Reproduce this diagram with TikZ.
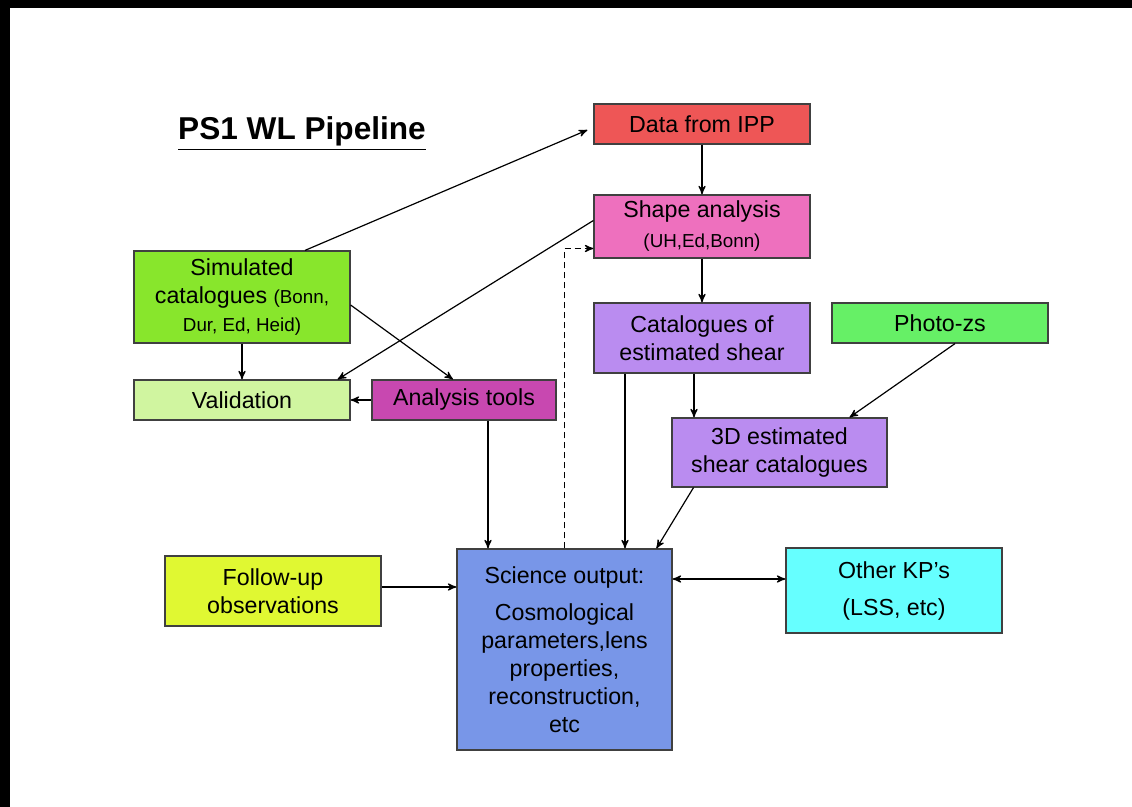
\documentclass[tikz,border=0pt]{standalone}
\usepackage{fontspec}
\setmainfont{Liberation Sans}
\usepackage{tikz}
\usetikzlibrary{arrows,calc}

\definecolor{ippred}{RGB}{238,86,86}
\definecolor{shapepink}{RGB}{238,112,190}
\definecolor{catpurple}{RGB}{186,140,240}
\definecolor{photogreen}{RGB}{102,240,102}
\definecolor{simgreen}{RGB}{136,230,44}
\definecolor{validgreen}{RGB}{208,245,160}
\definecolor{toolsmagenta}{RGB}{200,72,176}
\definecolor{followyellow}{RGB}{224,248,50}
\definecolor{sciblue}{RGB}{120,150,232}
\definecolor{othercyan}{RGB}{102,255,255}

\newcommand{\minitext}{\fontsize{9.4}{11}\selectfont}

\begin{document}
\begin{tikzpicture}[->,>=stealth',semithick,x=0.5pt,y=-0.5pt,
                    font=\fontsize{11.6}{14}\selectfont]
  \tikzstyle{box}=[rectangle,draw=black!75,line width=0.6pt,align=center,
                   inner sep=0pt,minimum width=108pt]

  \useasboundingbox (0,0) rectangle (1132,807);
  \fill[-,white] (0,0) rectangle (1132,807);
  \fill[-,black] (0,0) rectangle (1132,8);
  \fill[-,black] (0,0) rectangle (10,807);

  \node[font=\fontsize{15.8}{18}\selectfont\bfseries,anchor=base] (title) at (302,140) {\underline{PS1 WL Pipeline}};

  \node[box,fill=ippred,minimum height=20pt]        (ipp)    at (702,124)     {Data from IPP};
  \node[box,fill=shapepink,minimum height=31.5pt]   (shape)  at (702,226.5)   {Shape analysis\\[1pt]{\minitext (UH,Ed,Bonn)}};
  \node[box,fill=catpurple,minimum height=35pt]     (cat)    at (702,338)     {Catalogues of\\estimated shear};
  \node[box,fill=catpurple,minimum width=107.5pt,minimum height=34.5pt] (threed) at (779.5,452.5) {3D estimated\\shear catalogues};
  \node[box,fill=photogreen,minimum height=20pt]    (photoz) at (940,323)     {Photo-zs};
  \node[box,fill=simgreen,minimum height=46pt]      (sim)    at (242,297)     {Simulated\\catalogues {\minitext (Bonn,}\\{\minitext Dur, Ed, Heid)}};
  \node[box,fill=validgreen,minimum height=20pt]    (valid)  at (242,400)     {Validation};
  \node[box,fill=toolsmagenta,minimum width=92pt,minimum height=20pt] (tools) at (464,400) {Analysis tools};
  \node[box,fill=followyellow,minimum height=35pt]  (follow) at (273,591)     {Follow-up\\observations};
  \node[box,fill=sciblue,minimum width=107.5pt,minimum height=100.5pt] (science) at (564.5,649.5)
       {Science output:\\[4.5pt]Cosmological\\parameters,lens\\properties,\\reconstruction,\\etc};
  \node[box,fill=othercyan,minimum height=42.5pt]   (other)  at (894,590.5)   {Other KP's\\[4.5pt](LSS, etc)};

  % top part
  \draw ([xshift=31.5pt]sim.north) -- ($(ipp.west)+(-6,6)$);
  \draw (ipp) -- (shape);
  \draw ([yshift=3pt]shape.west) -- ([xshift=-6.5pt]valid.north east);
  \draw ([yshift=-4pt]sim.east) -- ([xshift=-5.5pt]tools.north);
  \draw (sim) -- (valid);
  \draw (tools) -- (valid);
  \draw (shape) -- (cat);
  \draw ([xshift=-4pt]cat.south) -- ([xshift=-4pt]cat.south |- threed.north);
  \draw ([xshift=7.5pt]photoz.south) -- ([xshift=35pt]threed.north);

  % into science output
  \draw ([xshift=-38.5pt]cat.south) -- ([xshift=-38.5pt]cat.south |- science.north);
  \draw ([xshift=-43pt]threed.south) -- ([xshift=46pt]science.north);
  \draw ([xshift=12pt]tools.south) -- ([xshift=12pt]tools.south |- science.north);
  \draw[dash pattern=on 3pt off 2pt] (science.north) |- ([yshift=-11pt]shape.west);
  \draw ([yshift=2pt]follow.east) -- ([yshift=2pt]follow.east -| science.west);
  \draw[<->] ([yshift=5.75pt]other.west -| science.east) -- ([yshift=5.75pt]other.west);
\end{tikzpicture}
\end{document}
